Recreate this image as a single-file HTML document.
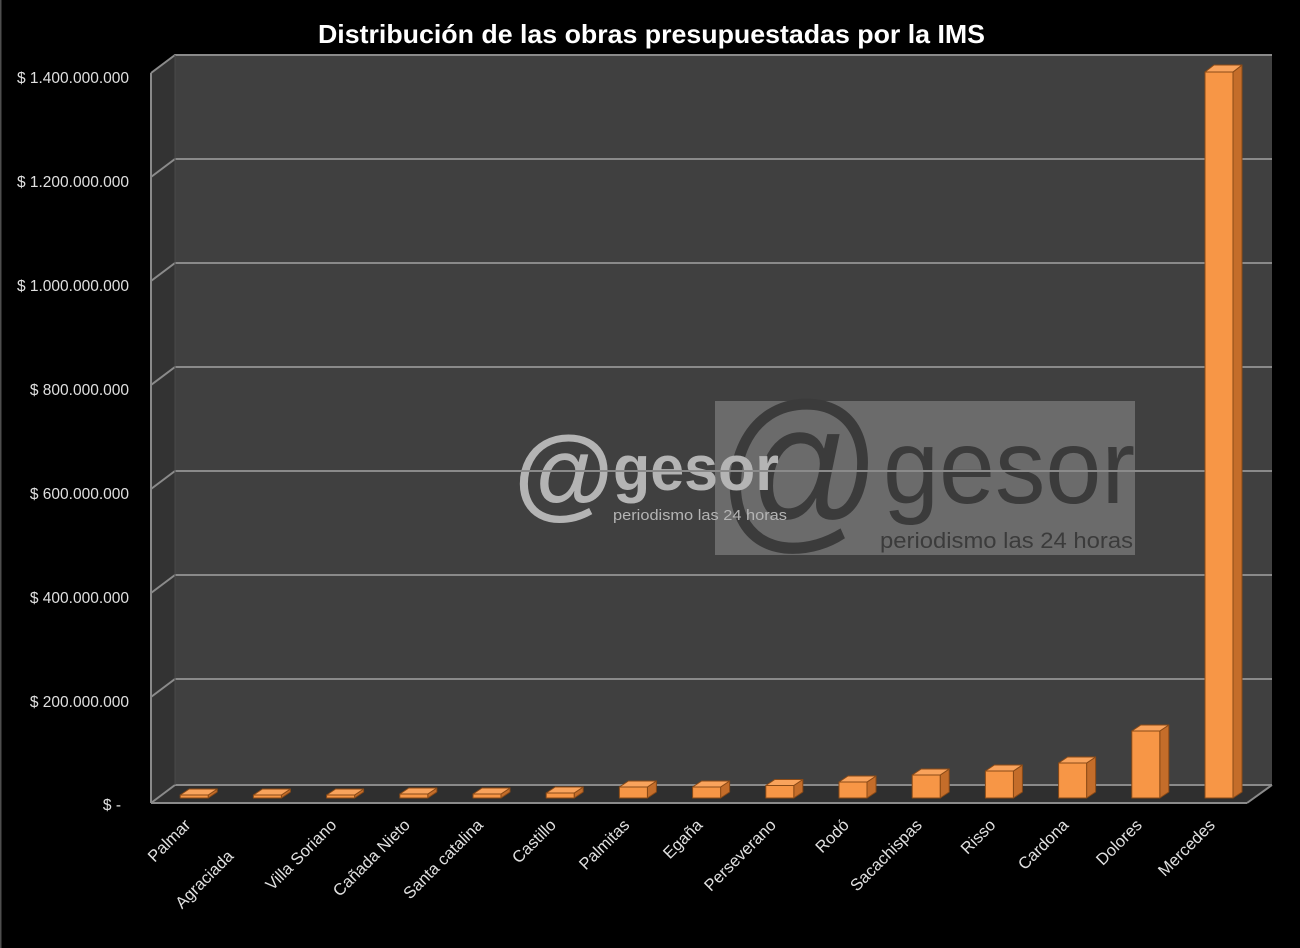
<!DOCTYPE html>
<html>
<head>
<meta charset="utf-8">
<style>
html,body{margin:0;padding:0;background:#000;}
svg{display:block;}
text{font-family:"Liberation Sans",Arial,sans-serif;}
</style>
</head>
<body>
<svg width="1300" height="948" viewBox="0 0 1300 948" xmlns="http://www.w3.org/2000/svg">
  <rect x="0" y="0" width="1300" height="948" fill="#000"/>
  <rect x="0" y="0" width="1.5" height="948" fill="#4e4e4e"/>

  <!-- Title -->
  <text x="318" y="43" font-size="26" font-weight="bold" fill="#fff" textLength="667" lengthAdjust="spacingAndGlyphs">Distribución de las obras presupuestadas por la IMS</text>

  <!-- Back wall -->
  <polygon points="175,55 1272,55 1272,785 175,785" fill="#404040"/>
  <!-- Side wall -->
  <polygon points="151,73 175,55 175,785 151,803" fill="#333333"/>
  <!-- Floor -->
  <polygon points="151,803 175,785 1272,785 1247,803" fill="#2f2f2f"/>

  <!-- Watermark large -->
  <rect x="715" y="401" width="420" height="154" fill="#6b6b6b"/>
  <g fill="#3b3b3b">
    <text x="717" y="529" font-size="180" textLength="165" lengthAdjust="spacingAndGlyphs">@</text>
    <text x="883" y="503" font-size="106" textLength="252" lengthAdjust="spacingAndGlyphs">gesor</text>
    <text x="880" y="548" font-size="22" textLength="253" lengthAdjust="spacingAndGlyphs">periodismo las 24 horas</text>
  </g>
  <!-- Watermark small (on top) -->
  <g fill="#b4b4b4">
    <text x="514" y="507" font-size="102" font-weight="bold">@</text>
    <text x="613" y="490" font-size="64" font-weight="bold" textLength="166" lengthAdjust="spacingAndGlyphs">gesor</text>
    <text x="613" y="520" font-size="15" textLength="174" lengthAdjust="spacingAndGlyphs">periodismo las 24 horas</text>
  </g>

  <!-- Gridlines -->
  <g stroke="#8a8a8a" stroke-width="2" fill="none">
    <polyline points="151,73 175,55 1272,55"/>
    <polyline points="151,177 175,159 1272,159"/>
    <polyline points="151,281 175,263 1272,263"/>
    <polyline points="151,385 175,367 1272,367"/>
    <polyline points="151,489 175,471 1272,471"/>
    <polyline points="151,593 175,575 1272,575"/>
    <polyline points="151,697 175,679 1272,679"/>
    <polyline points="151,803 175,785 1272,785"/>
    <line x1="151" y1="73" x2="151" y2="803"/>
    <line x1="151" y1="803" x2="1247" y2="803"/>
    <line x1="1247" y1="803" x2="1272" y2="785"/>
  </g>
  <line x1="175" y1="55" x2="175" y2="785" stroke="#4a4a4a" stroke-width="1"/>

  <!-- Y labels -->
  <g fill="#e0e0e0" font-size="15.5" text-anchor="end">
    <text x="129" y="83">$ 1.400.000.000</text>
    <text x="129" y="187">$ 1.200.000.000</text>
    <text x="129" y="291">$ 1.000.000.000</text>
    <text x="129" y="395">$ 800.000.000</text>
    <text x="129" y="499">$ 600.000.000</text>
    <text x="129" y="603">$ 400.000.000</text>
    <text x="129" y="707">$ 200.000.000</text>
    <text x="121" y="810">$ -</text>
  </g>

  <!-- Bars -->
  <g stroke="#8a4a16" stroke-width="1" stroke-linejoin="round">
    <g transform="translate(180.2,0)">
      <polygon points="28,795 37,789 37,792 28,798" fill="#c46d2a"/>
      <rect x="0" y="795" width="28" height="3" fill="#f79646"/>
      <polygon points="0,795 28,795 37,789 9,789" fill="#f9a35c"/>
    </g>
    <g transform="translate(253.4,0)">
      <polygon points="28,795 37,789 37,792 28,798" fill="#c46d2a"/>
      <rect x="0" y="795" width="28" height="3" fill="#f79646"/>
      <polygon points="0,795 28,795 37,789 9,789" fill="#f9a35c"/>
    </g>
    <g transform="translate(326.6,0)">
      <polygon points="28,795 37,789 37,792 28,798" fill="#c46d2a"/>
      <rect x="0" y="795" width="28" height="3" fill="#f79646"/>
      <polygon points="0,795 28,795 37,789 9,789" fill="#f9a35c"/>
    </g>
    <g transform="translate(399.8,0)">
      <polygon points="28,794 37,788 37,792 28,798" fill="#c46d2a"/>
      <rect x="0" y="794" width="28" height="4" fill="#f79646"/>
      <polygon points="0,794 28,794 37,788 9,788" fill="#f9a35c"/>
    </g>
    <g transform="translate(473,0)">
      <polygon points="28,794 37,788 37,792 28,798" fill="#c46d2a"/>
      <rect x="0" y="794" width="28" height="4" fill="#f79646"/>
      <polygon points="0,794 28,794 37,788 9,788" fill="#f9a35c"/>
    </g>
    <g transform="translate(546.2,0)">
      <polygon points="28,793 37,787 37,792 28,798" fill="#c46d2a"/>
      <rect x="0" y="793" width="28" height="5" fill="#f79646"/>
      <polygon points="0,793 28,793 37,787 9,787" fill="#f9a35c"/>
    </g>
    <g transform="translate(619.4,0)">
      <polygon points="28,787 37,781 37,792 28,798" fill="#c46d2a"/>
      <rect x="0" y="787" width="28" height="11" fill="#f79646"/>
      <polygon points="0,787 28,787 37,781 9,781" fill="#f9a35c"/>
    </g>
    <g transform="translate(692.6,0)">
      <polygon points="28,787 37,781 37,792 28,798" fill="#c46d2a"/>
      <rect x="0" y="787" width="28" height="11" fill="#f79646"/>
      <polygon points="0,787 28,787 37,781 9,781" fill="#f9a35c"/>
    </g>
    <g transform="translate(765.8,0)">
      <polygon points="28,785.5 37,779.5 37,792 28,798" fill="#c46d2a"/>
      <rect x="0" y="785.5" width="28" height="12.5" fill="#f79646"/>
      <polygon points="0,785.5 28,785.5 37,779.5 9,779.5" fill="#f9a35c"/>
    </g>
    <g transform="translate(839,0)">
      <polygon points="28,782 37,776 37,792 28,798" fill="#c46d2a"/>
      <rect x="0" y="782" width="28" height="16" fill="#f79646"/>
      <polygon points="0,782 28,782 37,776 9,776" fill="#f9a35c"/>
    </g>
    <g transform="translate(912.2,0)">
      <polygon points="28,775 37,769 37,792 28,798" fill="#c46d2a"/>
      <rect x="0" y="775" width="28" height="23" fill="#f79646"/>
      <polygon points="0,775 28,775 37,769 9,769" fill="#f9a35c"/>
    </g>
    <g transform="translate(985.4,0)">
      <polygon points="28,771 37,765 37,792 28,798" fill="#c46d2a"/>
      <rect x="0" y="771" width="28" height="27" fill="#f79646"/>
      <polygon points="0,771 28,771 37,765 9,765" fill="#f9a35c"/>
    </g>
    <g transform="translate(1058.6,0)">
      <polygon points="28,763 37,757 37,792 28,798" fill="#c46d2a"/>
      <rect x="0" y="763" width="28" height="35" fill="#f79646"/>
      <polygon points="0,763 28,763 37,757 9,757" fill="#f9a35c"/>
    </g>
    <g transform="translate(1131.8,0)">
      <polygon points="28,731 37,725 37,792 28,798" fill="#c46d2a"/>
      <rect x="0" y="731" width="28" height="67" fill="#f79646"/>
      <polygon points="0,731 28,731 37,725 9,725" fill="#f9a35c"/>
    </g>
    <g transform="translate(1205,0)">
      <polygon points="28,72 37,65 37,792 28,798" fill="#c46d2a"/>
      <rect x="0" y="72" width="28" height="726" fill="#f79646"/>
      <polygon points="0,72 28,72 37,65 9,65" fill="#f9a35c"/>
    </g>
  </g>

  <!-- X labels -->
  <g fill="#e0e0e0" font-size="16.5" text-anchor="end">
    <text transform="translate(191.5,826) rotate(-45)">Palmar</text>
    <text transform="translate(234.5,857) rotate(-45)">Agraciada</text>
    <text transform="translate(337.5,826) rotate(-45)">Villa Soriano</text>
    <text transform="translate(411,826) rotate(-45)">Cañada Nieto</text>
    <text transform="translate(484,826) rotate(-45)">Santa catalina</text>
    <text transform="translate(557,826) rotate(-45)">Castillo</text>
    <text transform="translate(630.5,826) rotate(-45)">Palmitas</text>
    <text transform="translate(703.5,826) rotate(-45)">Egaña</text>
    <text transform="translate(777,826) rotate(-45)">Perseverano</text>
    <text transform="translate(850,826) rotate(-45)">Rodó</text>
    <text transform="translate(923,826) rotate(-45)">Sacachispas</text>
    <text transform="translate(996.5,826) rotate(-45)">Risso</text>
    <text transform="translate(1069.5,826) rotate(-45)">Cardona</text>
    <text transform="translate(1143,826) rotate(-45)">Dolores</text>
    <text transform="translate(1216,826) rotate(-45)">Mercedes</text>
  </g>
</svg>
</body>
</html>
